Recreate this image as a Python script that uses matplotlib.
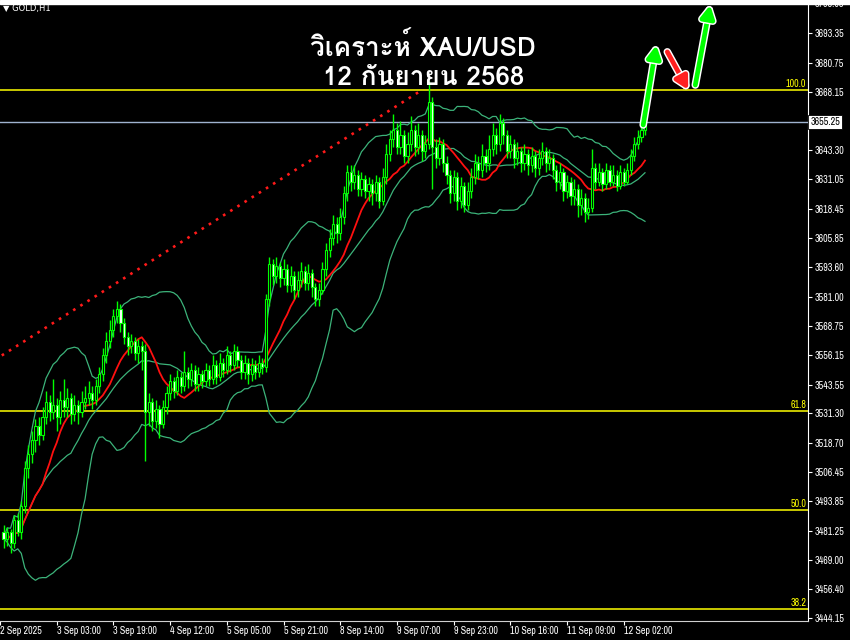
import matplotlib
matplotlib.use("Agg")
import matplotlib.pyplot as plt
import matplotlib.patheffects as pe
import pandas as pd

# GOLD H1 candles, open of each bar = previous close
first_open = 3481
closes = [3478, 3481, 3476, 3486, 3481, 3492, 3508, 3514, 3520, 3526,
          3522, 3530, 3536, 3532, 3535, 3530, 3537, 3534, 3538, 3531,
          3535, 3532, 3536, 3538, 3540, 3537, 3543, 3548, 3556, 3562,
          3567, 3573, 3576, 3570, 3564, 3560, 3562, 3557, 3560, 3558,
          3532, 3536, 3528, 3533, 3527, 3534, 3540, 3545, 3541, 3547,
          3543, 3549, 3546, 3550, 3544, 3548, 3545, 3550, 3546, 3552,
          3547, 3553, 3550, 3556, 3552, 3558, 3554, 3549, 3553, 3548,
          3552, 3549, 3553, 3551, 3580, 3595, 3590, 3594, 3589, 3593,
          3586, 3590, 3584, 3588, 3592, 3587, 3591, 3585, 3580, 3584,
          3593, 3601, 3606, 3612, 3608, 3615, 3625, 3634, 3630, 3633,
          3627, 3631, 3626, 3629, 3625, 3630, 3622, 3632, 3642, 3648,
          3652, 3645, 3650, 3641, 3646, 3652, 3645, 3650, 3643, 3646,
          3664, 3645, 3640, 3646, 3638, 3633, 3625, 3632, 3622, 3628,
          3620, 3626, 3632, 3638, 3635, 3641, 3638, 3644, 3650, 3646,
          3655, 3650, 3643, 3646, 3640, 3643, 3638, 3642, 3637, 3641,
          3636, 3640, 3643, 3638, 3640, 3635, 3630, 3634, 3626, 3630,
          3624, 3627, 3620, 3623, 3617, 3619, 3636, 3630, 3634, 3629,
          3635, 3630, 3633, 3628, 3634, 3630, 3635, 3641, 3646, 3649,
          3652, 3655.25]
highs = [3484, 3483, 3482, 3488, 3489, 3494, 3511, 3518, 3524, 3529,
         3530, 3534, 3541, 3539, 3546, 3538, 3541, 3546, 3542, 3540,
         3539, 3537, 3541, 3543, 3545, 3543, 3546, 3551, 3559, 3566,
         3571, 3576, 3579, 3578, 3572, 3566, 3565, 3564, 3563, 3562,
         3561, 3540, 3538, 3537, 3535, 3537, 3543, 3548, 3547, 3550,
         3549, 3558, 3551, 3553, 3552, 3551, 3550, 3553, 3552, 3556,
         3554, 3557, 3555, 3560, 3558, 3561, 3560, 3556, 3556, 3555,
         3555, 3554, 3556, 3555, 3582, 3598, 3597, 3598, 3596, 3597,
         3595, 3594, 3592, 3592, 3596, 3594, 3595, 3593, 3587, 3587,
         3596, 3604, 3610, 3616, 3615, 3619, 3628, 3637, 3637, 3637,
         3635, 3634, 3633, 3632, 3631, 3633, 3632, 3636, 3646, 3652,
         3659, 3655, 3656, 3652, 3651, 3658, 3654, 3655, 3652, 3650,
         3673, 3666, 3648, 3649, 3648, 3641, 3635, 3635, 3634, 3632,
         3630, 3630, 3636, 3642, 3641, 3646, 3644, 3650, 3655, 3653,
         3659, 3657, 3652, 3650, 3648, 3647, 3645, 3646, 3644, 3645,
         3643, 3644, 3647, 3645, 3644, 3642, 3637, 3638, 3636, 3633,
         3632, 3631, 3629, 3627, 3625, 3623, 3644, 3638, 3638, 3636,
         3638, 3637, 3637, 3635, 3637, 3636, 3638, 3644, 3649, 3652,
         3655, 3657]
lows = [3474, 3475, 3472, 3474, 3479, 3478, 3489, 3504, 3510, 3515,
        3518, 3520, 3527, 3528, 3529, 3524, 3527, 3530, 3530, 3527,
        3528, 3527, 3530, 3533, 3535, 3533, 3535, 3540, 3545, 3553,
        3559, 3564, 3570, 3566, 3561, 3556, 3557, 3554, 3553, 3550,
        3511, 3526, 3524, 3525, 3521, 3525, 3531, 3537, 3538, 3539,
        3540, 3541, 3542, 3543, 3541, 3541, 3542, 3543, 3543, 3544,
        3544, 3545, 3547, 3548, 3549, 3550, 3551, 3546, 3546, 3544,
        3545, 3546, 3547, 3548, 3549, 3577, 3586, 3587, 3585, 3586,
        3583, 3583, 3580, 3581, 3585, 3584, 3584, 3581, 3577, 3577,
        3582, 3590, 3598, 3603, 3604, 3605, 3612, 3622, 3626, 3627,
        3624, 3624, 3623, 3622, 3620, 3622, 3619, 3620, 3629, 3639,
        3645, 3642, 3642, 3638, 3638, 3643, 3641, 3642, 3639, 3640,
        3644, 3627, 3636, 3637, 3634, 3629, 3621, 3622, 3618, 3619,
        3617, 3618, 3623, 3629, 3631, 3632, 3634, 3635, 3641, 3642,
        3643, 3646, 3640, 3640, 3636, 3637, 3634, 3635, 3633, 3634,
        3632, 3633, 3637, 3634, 3635, 3631, 3626, 3627, 3622, 3623,
        3620, 3620, 3615, 3616, 3613, 3614, 3617, 3627, 3628, 3626,
        3627, 3628, 3628, 3626, 3627, 3628, 3629, 3633, 3639, 3644,
        3647, 3650]

x_ticks = [-1, 15, 31, 47, 63, 79, 95, 111, 127, 143, 159, 175]
x_labels = ["2 Sep 2025", "3 Sep 03:00", "3 Sep 19:00", "4 Sep 12:00",
            "5 Sep 05:00", "5 Sep 21:00", "8 Sep 14:00", "9 Sep 07:00",
            "9 Sep 23:00", "10 Sep 16:00", "11 Sep 09:00", "12 Sep 02:00"]
y_ticks = [3444.15, 3456.40, 3469.00, 3481.25, 3493.85, 3506.45, 3518.70,
           3531.30, 3543.55, 3556.15, 3568.75, 3581.00, 3593.60, 3605.85,
           3618.45, 3631.05, 3643.30, 3668.15, 3680.75, 3693.35, 3705.95]
last_price = 3655.25

# fibonacci retracement (swing low / swing high)
fib_low, fib_high = 3311.6, 3668.9
fib_levels = [100.0, 61.8, 50.0, 38.2]

# dotted trend line and the forecast arrows
trend_x = [-0.5, 118]
trend_y = [3556, 3669]
arrow_x0 = [180.5, 187.3, 195.2]
arrow_y0 = [3654.2, 3685.3, 3671.2]
arrow_x1 = [184.2, 193.2, 199.4]
arrow_y1 = [3688.2, 3669.1, 3705.3]
arrow_colors = ["#00ff00", "#ff2020", "#00ff00"]

title_lines = ["วิเคราะห์ XAU/USD", "12 กันยายน 2568"]

c = pd.Series(closes, dtype=float)
o = pd.Series([first_open] + closes[:-1], dtype=float)
h = pd.Series(highs, dtype=float)
l = pd.Series(lows, dtype=float)
idx = range(len(c))

# bollinger 20,2 and a 12 sma
mid = c.rolling(20, min_periods=1).mean()
sd = c.rolling(20, min_periods=1).std(ddof=0).fillna(0)
upper = mid + 2 * sd
lower = mid - 2 * sd
ma = c.rolling(12, min_periods=1).mean()

axis_font = dict(family=["Archivo Narrow", "DejaVu Sans"], size=7.2)

W, H = 850, 640
fig = plt.figure(figsize=(8.5, 6.4), dpi=100, facecolor="black")
ax = fig.add_axes([0, 19 / H, 808 / W, 1 - 19 / H])
ax.set_facecolor("black")
ax.set_xlim(-0.48, 227.0)
ax.set_ylim(3442.9, 3707.4)

# fib + price lines
for lv in fib_levels:
    yv = fib_low + (fib_high - fib_low) * lv / 100
    ax.axhline(yv, color="#ffff00", lw=1.1, zorder=1)
    ax.text(0.998, yv + 0.4, f"{lv:.1f}", color="#ffff00", ha="right", va="bottom",
            transform=ax.get_yaxis_transform(), fontdict=axis_font)
ax.axhline(last_price, color="#9fb3cf", lw=1, zorder=1)

ax.plot(trend_x, trend_y, color="#ff1a1a", lw=1.9, ls=(0, (1, 2.2)), zorder=2)

bc = "#3cb37a"
for s in (upper, mid, lower):
    ax.plot(idx, s, color=bc, lw=0.9, zorder=2)
ax.plot(idx, ma, color="#ff1010", lw=1.3, zorder=3)

# candles
ax.vlines(idx, l, h, color="#00ff00", lw=1, zorder=4)
bull = c >= o
body_lo = pd.concat([o, c], axis=1).min(axis=1)
body_h = (c - o).abs().clip(lower=0.3)
ax.bar(list(idx), body_h, bottom=body_lo, width=0.6,
       color=["black" if b else "white" for b in bull],
       edgecolor="#00ff00", linewidth=0.8, zorder=5)

for x0, y0, x1, y1, col in zip(arrow_x0, arrow_y0, arrow_x1, arrow_y1, arrow_colors):
    ax.annotate("", xy=(x1, y1), xytext=(x0, y0), zorder=6,
                arrowprops=dict(arrowstyle="-|>,head_width=0.4,head_length=0.75",
                                lw=3.4, color=col, shrinkA=0, shrinkB=0,
                                path_effects=[pe.withStroke(linewidth=5.5, foreground="white")]))

fam = ["Loma", "DejaVu Sans"]
ax.text(0.524, 0.925, title_lines[0], transform=ax.transAxes, ha="center", va="center",
        color="white", fontsize=18.8, fontweight="bold", family=fam, zorder=7)
ax.text(0.524, 0.874, title_lines[1], transform=ax.transAxes, ha="center", va="center",
        color="white", fontsize=18.8, fontweight="bold", family=fam, zorder=7)

# axes look (MT4 style)
for s in ax.spines.values():
    s.set_visible(False)
ax.spines["right"].set_visible(True)
ax.spines["bottom"].set_visible(True)
ax.spines["right"].set_color("white")
ax.spines["bottom"].set_color("#d0d0d0")
ax.yaxis.tick_right()
ax.set_yticks(y_ticks)
ax.set_yticklabels([f"{v:.2f}" for v in y_ticks], fontdict=axis_font)
ax.set_xticks(x_ticks)
ax.set_xticklabels(x_labels, ha="left", fontdict=axis_font)
ax.tick_params(axis="both", colors="white", length=3, width=0.8)
ax.tick_params(axis="y", pad=1.5)
ax.tick_params(axis="x", pad=0.5)

ax.text(1.003, last_price, f"{last_price:.2f}", transform=ax.get_yaxis_transform(),
        color="black", va="center", ha="left", fontdict=axis_font,
        bbox=dict(boxstyle="square,pad=0.2", fc="white", ec="black", lw=0.6),
        clip_on=False, zorder=8)

fig.text(3 / W, 1 - 8 / H, "▼ GOLD,H1", color="white", fontsize=6, va="center")
fig.patches.append(plt.Rectangle((0, 1 - 4 / H), 1, 4 / H, transform=fig.transFigure,
                                 color="white", zorder=10))

fig.savefig("out.png", dpi=100, facecolor="black")
